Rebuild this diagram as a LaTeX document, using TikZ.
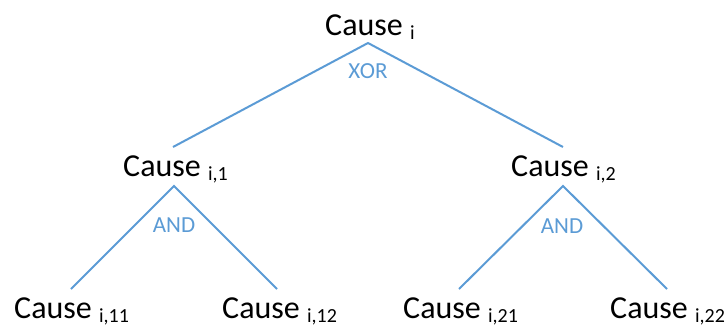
\documentclass[tikz,border=0pt]{standalone}
\usepackage{fontspec}
\setmainfont{Carlito}
\definecolor{lineblue}{HTML}{5B9BD5}
\newcommand{\causesub}[1]{\raisebox{-4pt}{\fontsize{20}{24}\selectfont #1}}
\tikzset{
  cause/.style={anchor=base west, inner sep=0pt, font=\fontsize{32}{38}\selectfont},
  gate/.style={inner sep=0pt, text=lineblue, font=\fontsize{23}{27}\selectfont},
  branch/.style={draw=lineblue, line width=2pt}
}
\begin{document}
\begin{tikzpicture}[x=1pt,y=-1pt]
\useasboundingbox (0,0) rectangle (726,327);
% texts
\node[cause] (c)   at (325,35)  {Cause \causesub{i}};
\node[cause] (c1)  at (123,176) {Cause \causesub{i,1}};
\node[cause] (c2)  at (511,176) {Cause \causesub{i,2}};
\node[cause] (c11) at (14,318)  {Cause \causesub{i,11}};
\node[cause] (c12) at (222,318) {Cause \causesub{i,12}};
\node[cause] (c21) at (403,318) {Cause \causesub{i,21}};
\node[cause] (c22) at (610,318) {Cause \causesub{i,22}};
% gate labels
\node[gate] (xor)  at (368,71)  {XOR};
\node[gate] (and1) at (174,225) {AND};
\node[gate] (and2) at (562,226) {AND};
% branch points
\coordinate (a0) at (368,43);
\coordinate (l0) at (173,147);
\coordinate (r0) at (563,147);
\coordinate (a1) at (174,186);
\coordinate (l1) at (71,289);
\coordinate (r1) at (277,289);
\coordinate (a2) at (563,186);
\coordinate (l2) at (459,289);
\coordinate (r2) at (667,289);
\draw[branch] (l0) -- (a0) -- (r0);
\draw[branch] (l1) -- (a1) -- (r1);
\draw[branch] (l2) -- (a2) -- (r2);
\end{tikzpicture}
\end{document}
